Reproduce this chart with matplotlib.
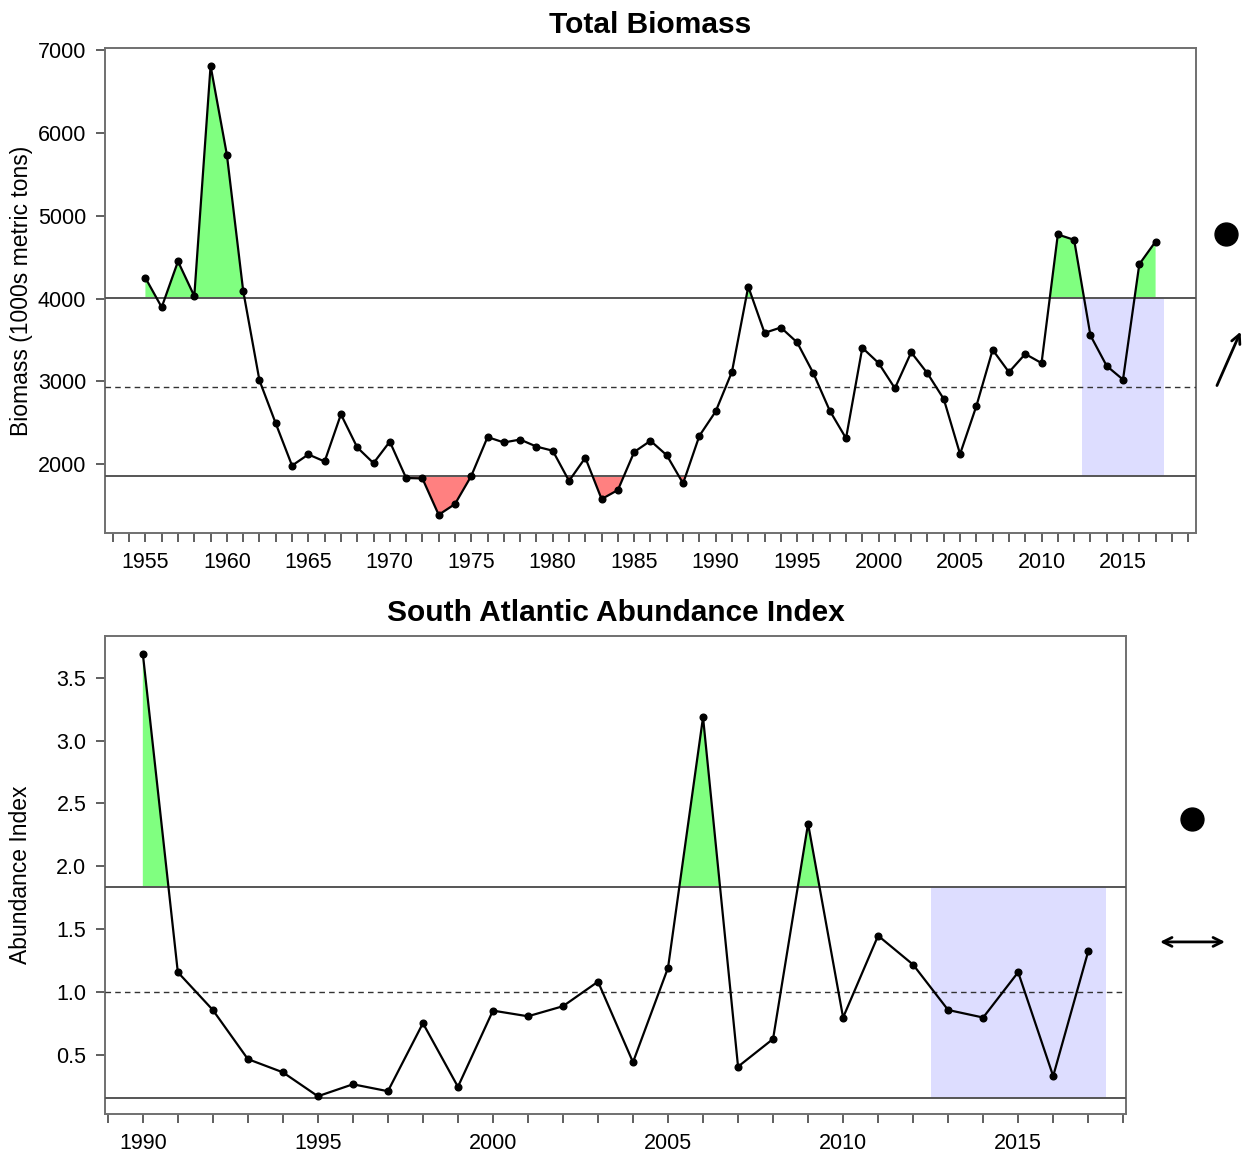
import numpy as np
import matplotlib.pyplot as plt

plt.rcParams['font.family'] = ['Liberation Sans', 'DejaVu Sans']

# Total Biomass (1000s metric tons)
bio_years = np.arange(1955, 2018)
bio_vals = [4250, 3895, 4450, 4030, 6815, 5740, 4095, 3010, 2490, 1980,
            2115, 2030, 2600, 2200, 2010, 2270, 1830, 1825, 1385, 1515,
            1855, 2325, 2260, 2295, 2210, 2160, 1795, 2075, 1575, 1685,
            2145, 2280, 2105, 1765, 2340, 2635, 3115, 4145, 3585, 3650,
            3470, 3095, 2645, 2310, 3405, 3220, 2915, 3350, 3095, 2785,
            2120, 2700, 3380, 3110, 3330, 3220, 4775, 4710, 3555, 3185,
            3020, 4415, 4690]
bio_mean, bio_upper, bio_lower = 2935, 4012, 1859

# South Atlantic Abundance Index
sa_years = np.arange(1990, 2018)
sa_vals = [3.69, 1.16, 0.86, 0.47, 0.365, 0.175, 0.27, 0.215, 0.755, 0.25,
           0.855, 0.81, 0.89, 1.085, 0.445, 1.195, 3.185, 0.41, 0.63, 2.34,
           0.80, 1.45, 1.22, 0.86, 0.80, 1.16, 0.335, 1.325]
sa_mean, sa_upper, sa_lower = 1.0, 1.833, 0.164

recent = (2012.5, 2017.5)

W, H = 1248, 1163
fig = plt.figure(figsize=(W / 100, H / 100), dpi=100)
TICK_FS = 15.5


def panel(rect, years, vals, mean, upper, lower, title, ylabel, xlim, ylim,
          yticks, yfmt, tick_lo, tick_hi, lab_x, trend):
    ax = fig.add_axes(rect)
    x = np.asarray(years, dtype=float)
    y = np.asarray(vals, dtype=float)

    # last-5-years box
    ax.fill_between(recent, lower, upper, color='#DDDDFF', lw=0, zorder=1)

    # above / below +-1 sd
    ax.fill_between(x, y, upper, where=y > upper, interpolate=True,
                    color='#80FF80', lw=0, zorder=2)
    ax.fill_between(x, y, lower, where=y < lower, interpolate=True,
                    color='#FF8080', lw=0, zorder=2)

    ax.axhline(upper, color='#555555', lw=1.4, zorder=3)
    ax.axhline(lower, color='#555555', lw=1.4, zorder=3)
    ax.axhline(mean, color='#333333', lw=1.0, ls=(0, (4, 3)), zorder=3)

    ax.plot(x, y, color='black', lw=1.6, marker='o', ms=4.8, zorder=4)

    ax.set_xlim(xlim)
    ax.set_ylim(ylim)
    ax.set_yticks(yticks)
    ax.set_yticklabels([yfmt.format(v) for v in yticks], fontsize=TICK_FS)
    major = np.arange(tick_lo, tick_hi + 1)
    ax.set_xticks(major)
    ax.set_xticklabels([str(v) if v % 5 == 0 else '' for v in major],
                       fontsize=TICK_FS)
    ax.tick_params(axis='both', direction='out', length=6.5, width=1.2,
                   color='#444444', labelsize=TICK_FS, pad=7)
    for s in ax.spines.values():
        s.set_color('#707070')
        s.set_linewidth(1.4)

    ax.set_title(title, fontsize=21.5, fontweight='bold', pad=11)
    ax.set_ylabel(ylabel, fontsize=16.5)
    ax.yaxis.set_label_coords(lab_x, 0.5)

    # status symbols at the right
    ax.plot([trend['dot'][0]], [trend['dot'][1]], 'o', color='black', ms=16.5,
            transform=ax.transAxes, clip_on=False)
    ax.annotate('', xy=trend['head'], xytext=trend['tail'],
                xycoords='axes fraction', textcoords='axes fraction',
                arrowprops=dict(arrowstyle=trend['style'], lw=2,
                                mutation_scale=16, color='black',
                                shrinkA=0, shrinkB=0))
    return ax


panel([105 / W, 1 - 533 / H, 1091 / W, 485 / H], bio_years, bio_vals,
      bio_mean, bio_upper, bio_lower, 'Total Biomass',
      'Biomass (1000s metric tons)', (1952.52, 2019.48), (1165, 7030),
      [2000, 3000, 4000, 5000, 6000, 7000], '{:.0f}', 1953, 2019, -0.066,
      dict(dot=(1.0275, 0.6165), tail=(1.0192, 0.304), head=(1.0409, 0.415),
           style='->'))

panel([105 / W, 1 - 1114 / H, 1021 / W, 478 / H], sa_years, sa_vals,
      sa_mean, sa_upper, sa_lower, 'South Atlantic Abundance Index',
      'Abundance Index', (1988.92, 2018.08), (0.034, 3.83),
      [0.5, 1.0, 1.5, 2.0, 2.5, 3.0, 3.5], '{:.1f}', 1989, 2018, -0.0715,
      dict(dot=(1.0643, 0.617), tail=(1.0333, 0.36), head=(1.0970, 0.36),
           style='<->'))

fig.savefig('out.png', dpi=100)
